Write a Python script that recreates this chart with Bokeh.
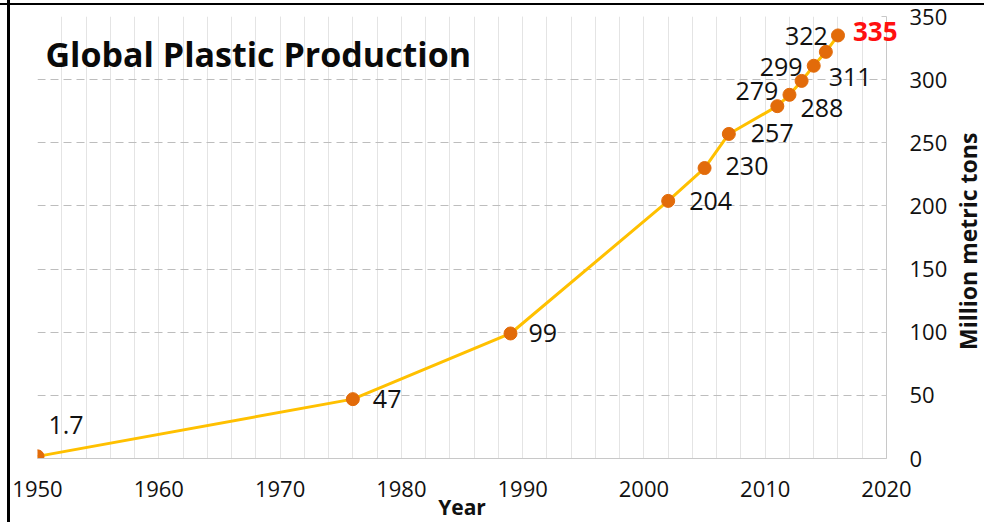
import math
from bokeh.plotting import figure
from bokeh.models import ColumnDataSource, Label, FixedTicker
from bokeh.core.properties import value
from bokeh.embed import file_html
from bokeh.resources import INLINE

# ---- data ----
years = [1950, 1976, 1989, 2002, 2005, 2007, 2011, 2012, 2013, 2014, 2015, 2016]
production = [1.7, 47, 99, 204, 230, 257, 279, 288, 299, 311, 322, 335]
value_labels = ["1.7", "47", "99", "204", "230", "257", "279", "288", "299", "311", "322", "335"]
x_tick_values = [1950, 1960, 1970, 1980, 1990, 2000, 2010, 2020]
y_tick_values = [0, 50, 100, 150, 200, 250, 300, 350]
title_text = "Global Plastic Production"
x_title = "Year"
y_title = "Million metric tons"

# ---- label placement (style) ----
label_dx = [11, 20, 18, 21, 21, 22, 1, 11, 1, 15, 2, 15]
label_dy = [-31, 0, 0, 0, -2, -1, -15, 13, -14, 11, -16, -4]
label_align = ["left", "left", "left", "left", "left", "left", "right", "left", "right", "left", "right", "left"]

FONT = "Open Sans"

p = figure(width=984, height=522,
           x_range=(1950, 2020), y_range=(0, 350),
           y_axis_location="right",
           min_border_left=37, min_border_top=16, min_border_right=98, min_border_bottom=64,
           output_backend="svg", toolbar_location=None)
p.outline_line_color = None
p.background_fill_color = "white"
p.border_fill_color = None
# picture frame (black lines at top and left), drawn as the element's background
p.styles = {
    "background": "linear-gradient(#000,#000) 7px 0 / 3px 100% no-repeat, "
                  "linear-gradient(#000,#000) 0 3px / 100% 2px no-repeat, #ffffff",
}

# grids
p.xaxis.ticker = FixedTicker(ticks=x_tick_values, minor_ticks=list(range(1950, 2021, 2)))
p.yaxis.ticker = FixedTicker(ticks=y_tick_values)
p.xgrid.grid_line_color = "#E4E4E4"
p.xgrid.minor_grid_line_color = "#E4E4E4"
p.xgrid.grid_line_width = 1
p.ygrid.grid_line_color = "#BDBDBD"
p.ygrid.grid_line_dash = "8 5"
p.ygrid.grid_line_width = 1

# x axis
xa = p.xaxis[0]
xa.axis_line_color = "#C8C8C8"
xa.major_tick_line_color = None
xa.minor_tick_line_color = None
xa.major_tick_out = 0
xa.major_label_standoff = 18
xa.major_label_text_font = FONT
xa.major_label_text_font_size = "22px"
xa.major_label_text_color = "#111111"

# y axis (right)
ya = p.yaxis[0]
ya.axis_line_color = "#C8C8C8"
ya.major_tick_line_color = "#C8C8C8"
ya.major_tick_in = 5
ya.major_tick_out = 0
ya.minor_tick_line_color = None
ya.major_label_standoff = 23
ya.major_label_text_font = FONT
ya.major_label_text_font_size = "22px"
ya.major_label_text_color = "#111111"

# series
src = ColumnDataSource(dict(x=years, y=production))
p.line("x", "y", source=src, line_color="#FFC000", line_width=3)
p.scatter("x", "y", source=src, size=13, fill_color="#E26B0A", line_color="#E26B0A")

main = ColumnDataSource(dict(x=years[:-1], y=production[:-1], txt=value_labels[:-1],
                             dx=label_dx[:-1], dy=label_dy[:-1], align=label_align[:-1]))
last = ColumnDataSource(dict(x=years[-1:], y=production[-1:], txt=value_labels[-1:],
                             dx=label_dx[-1:], dy=label_dy[-1:], align=label_align[-1:]))
p.text("x", "y", text="txt", source=main, x_offset="dx", y_offset="dy",
       text_align="align", text_baseline="middle",
       text_font=value(FONT), text_font_size="25px", text_color="#111111", level="overlay")
p.text("x", "y", text="txt", source=last, x_offset="dx", y_offset="dy",
       text_align="align", text_baseline="middle",
       text_font=value(FONT), text_font_size="26px", text_font_style="bold",
       text_color="#FF1010", level="overlay")

# title inside the plot area
p.add_layout(Label(x=1950.66, y=320.4, text=title_text,
                   text_font=FONT, text_font_size="34px", text_font_style="bold",
                   text_color="#0a0a0a", text_baseline="middle", text_align="left"))

# axis titles drawn as unclipped overlay text
xt = ColumnDataSource(dict(x=[1985], y=[-38.6], txt=[x_title]))
p.text("x", "y", text="txt", source=xt,
       text_align="center", text_baseline="middle",
       text_font=value(FONT), text_font_size="21px", text_font_style="bold",
       text_color="#111111", level="overlay")

yt = ColumnDataSource(dict(x=[2026.76], y=[172], txt=[y_title]))
p.text("x", "y", text="txt", source=yt, angle=math.pi / 2,
       text_align="center", text_baseline="middle",
       text_font=value(FONT), text_font_size="23px", text_font_style="bold",
       text_color="#111111", level="overlay")

open("out.html", "w").write(file_html(p, INLINE))
